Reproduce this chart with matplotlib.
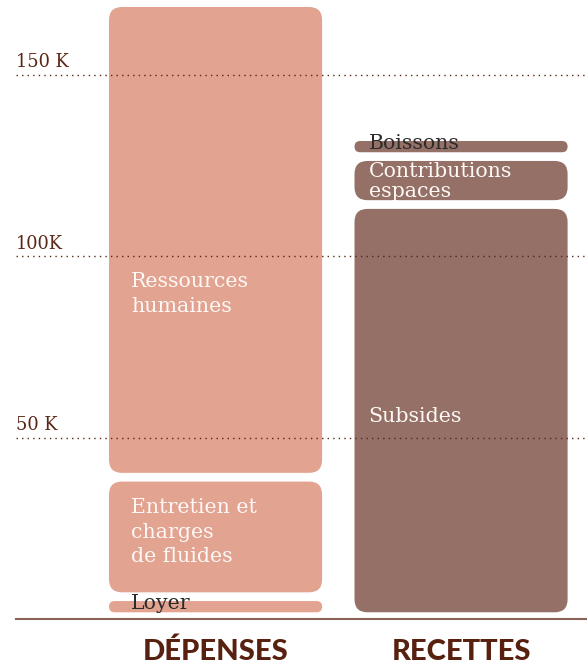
import matplotlib
matplotlib.use("Agg")
from matplotlib import pyplot as plt
from matplotlib.patches import FancyBboxPatch

# Budget in thousands of euros
categories = ["DÉPENSES", "RECETTES"]

depenses_labels = ["Loyer", "Entretien et\ncharges\nde fluides", "Ressources\nhumaines"]
depenses_values = [6.2, 32.9, 130.7]

recettes_labels = ["Subsides", "Contributions\nespaces", "Boissons"]
recettes_values = [114.2, 13.2, 5.5]

grid_ticks = [50, 100, 150]
grid_labels = ["50 K", "100K", "150 K"]

# styling
SALMON = "#e3a391"
MAUVE = "#947066"
DARK = "#5a2716"
W, H = 587, 664
BAR_W = 0.868
GAP = 1.2          # half gap between segments (K)
BASE_GAP = 1.9     # gap above the baseline (K)
RADIUS_PX = 13

fig = plt.figure(figsize=(W / 100, H / 100), dpi=100)
ax = fig.add_axes([0, 0, 1, 1])
ax.set_xlim(-0.878, 1.513)
ax.set_ylim(-12.34, 170.53)
ax.axis("off")

# data units per pixel
ax_px = (1.513 + 0.878) / W
ay_px = (170.53 + 12.34) / H


def draw_stack(xc, values, labels, color, text_colors, text_y, text_ls, text_dx):
    bottom = 0
    for i, v in enumerate(values):
        y0 = bottom + (BASE_GAP if i == 0 else GAP)
        y1 = bottom + v - GAP
        h = y1 - y0
        r_px = min(RADIUS_PX, h / ay_px / 2)
        box = FancyBboxPatch((xc - BAR_W / 2, y0), BAR_W, h,
                             boxstyle=f"round,pad=0,rounding_size={r_px * ax_px}",
                             mutation_aspect=ay_px / ax_px,
                             fc=color, ec="none", zorder=1)
        ax.add_patch(box)
        ax.text(xc - BAR_W / 2 + text_dx * ax_px, text_y[i], labels[i],
                color=text_colors[i], fontsize=14.8, family="DejaVu Serif",
                va="center", ha="left", linespacing=text_ls[i], zorder=3)
        bottom += v


draw_stack(0, depenses_values, depenses_labels, SALMON,
           ["#2b2b2b", "#fdf8f5", "#fdf8f5"], [4.2, 24.0, 89.6], [1.2, 1.36, 1.36], 22)
draw_stack(1, recettes_values, recettes_labels, MAUVE,
           ["#fdf8f5", "#fdf8f5", "#2b2b2b"], [55.7, 120.6, 130.9], [1.2, 1.08, 1.2], 14)

# dotted reference lines drawn over the bars
for t, lab in zip(grid_ticks, grid_labels):
    ax.axhline(t, xmin=16 / W, xmax=1, color=DARK, lw=1, ls=(0, (1, 3)), zorder=4)
    ax.text(16 / W, t + 2.0, lab, transform=ax.get_yaxis_transform(),
            color=DARK, fontsize=12.8, family="DejaVu Serif", va="baseline")

ax.axhline(0, xmin=16 / W, xmax=1, color="#8b6257", lw=1.5, zorder=2)

for x, c in zip([0, 1], categories):
    ax.text(x, -8.9, c, ha="center", va="center", color="#58200f",
            fontsize=21, family="Lato", fontweight="black")

fig.savefig("out.png", dpi=100)
